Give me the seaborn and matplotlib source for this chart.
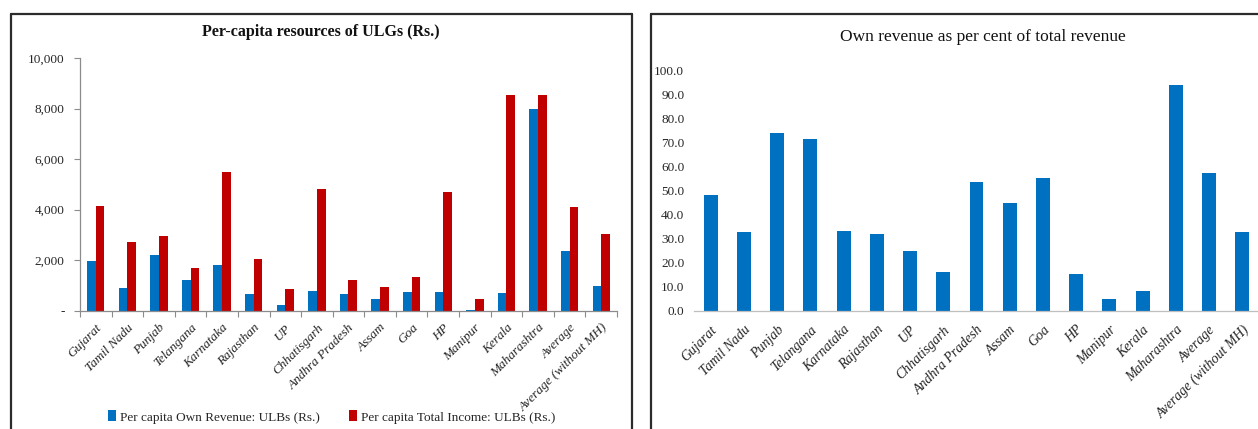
import numpy as np
import pandas as pd
import matplotlib
matplotlib.use("Agg")
import matplotlib.pyplot as plt
from matplotlib.lines import Line2D
from matplotlib.patches import Patch
import seaborn as sns

# ---- data -------------------------------------------------------------
states = ["Gujarat", "Tamil Nadu", "Punjab", "Telangana", "Karnataka",
          "Rajasthan", "UP", "Chhatisgarh", "Andhra Pradesh", "Assam", "Goa",
          "HP", "Manipur", "Kerala", "Maharashtra", "Average",
          "Average (without MH)"]
own_revenue = [1980, 900, 2180, 1190, 1810, 660, 210, 790, 650, 440, 730,
               730, 22, 690, 7970, 2340, 990]
total_income = [4120, 2710, 2960, 1670, 5470, 2050, 860, 4810, 1220, 950,
                1310, 4700, 440, 8520, 8520, 4090, 3040]
own_share_pct = [48.2, 32.9, 73.9, 71.4, 33.1, 32.1, 24.7, 16.1, 53.5, 45.0,
                 55.4, 15.3, 5.0, 8.0, 93.7, 57.3, 32.9]
series_names = ["Per capita Own Revenue: ULBs (Rs.)",
                "Per capita Total Income: ULBs (Rs.)"]
left_yticks = [0, 2000, 4000, 6000, 8000, 10000]
left_yticklabels = ["-", "2,000", "4,000", "6,000", "8,000", "10,000"]
right_yticks = [0, 10, 20, 30, 40, 50, 60, 70, 80, 90, 100]

BLUE = "#0070C0"
RED = "#C00000"
AXIS_GREY = "#8C8C8C"
TEXT = "#262626"

sns.set_theme(style="white")
plt.rcParams["font.family"] = ["Liberation Serif", "DejaVu Serif"]

W, H = 1258, 429
fig = plt.figure(figsize=(W / 100, H / 100), dpi=100)


def fx(px):
    return px / W


def fy(py):
    return 1 - py / H


# ---- panel frames ------------------------------------------------------
frame_kw = dict(color="#2b2b2b", linewidth=1.6, transform=fig.transFigure)
# left panel
fig.add_artist(Line2D([fx(11), fx(11)], [fy(14), -0.05], **frame_kw))
fig.add_artist(Line2D([fx(632), fx(632)], [fy(14), -0.05], **frame_kw))
fig.add_artist(Line2D([fx(11), fx(632)], [fy(14), fy(14)], **frame_kw))
# right panel
fig.add_artist(Line2D([fx(651), fx(651)], [fy(14), -0.05], **frame_kw))
fig.add_artist(Line2D([fx(651), 1.05], [fy(14), fy(14)], **frame_kw))

# ---- left chart: per-capita resources ----------------------------------
axL = fig.add_axes([fx(80), fy(310.5), fx(617) - fx(80), fy(58) - fy(310.5)])
long_df = pd.DataFrame({
    "state": states * 2,
    "value": own_revenue + total_income,
    "series": [series_names[0]] * len(states) + [series_names[1]] * len(states),
})
sns.barplot(data=long_df, x="state", y="value", hue="series",
            palette=[BLUE, RED], width=0.55, saturation=1, linewidth=0,
            legend=False, ax=axL)
axL.set_ylim(0, 10000)
axL.set_xlim(-0.5, len(states) - 0.5)
axL.set_yticks(left_yticks)
axL.set_yticklabels(left_yticklabels)
axL.set_xticks(range(len(states)))
axL.set_xticklabels(states, rotation=45, ha="right", rotation_mode="anchor",
                    fontstyle="italic", fontsize=9.5, color=TEXT)
axL.set_xticks(np.arange(-0.5, len(states)), minor=True)
axL.tick_params(axis="x", which="major", length=0, pad=8)
axL.tick_params(axis="x", which="minor", length=4, width=0.8,
                color=AXIS_GREY, direction="out", bottom=True)
axL.tick_params(axis="y", length=4, width=0.8, color=AXIS_GREY,
                direction="out", left=True, labelsize=9.5, labelcolor=TEXT,
                pad=7)
for side in ("top", "right"):
    axL.spines[side].set_visible(False)
for side in ("left", "bottom"):
    axL.spines[side].set_color(AXIS_GREY)
    axL.spines[side].set_linewidth(0.9)
axL.set_xlabel("")
axL.set_ylabel("")
axL.grid(False)
fig.text(fx(321), fy(32), "Per-capita resources of ULGs (Rs.)",
         ha="center", va="center", fontsize=11.5, fontweight="bold",
         color="#111111")

handles = [Patch(facecolor=BLUE, edgecolor="none"),
           Patch(facecolor=RED, edgecolor="none")]
fig.legend(handles, series_names, loc="center", ncol=2,
           bbox_to_anchor=(fx(332), fy(417)), frameon=False, fontsize=9.5,
           handlelength=0.6, handleheight=0.9, handletextpad=0.3,
           columnspacing=2.2, labelcolor=TEXT)

# ---- right chart: own revenue share ------------------------------------
axR = fig.add_axes([fx(694), fy(310.7), fx(1259) - fx(694),
                    fy(70.3) - fy(310.7)])
share_df = pd.DataFrame({"state": states, "share": own_share_pct})
sns.barplot(data=share_df, x="state", y="share", color=BLUE, width=0.42,
            saturation=1, linewidth=0, ax=axR)
axR.set_ylim(0, 100)
axR.set_xlim(-0.5, len(states) - 0.5)
axR.set_yticks(right_yticks)
axR.set_yticklabels([f"{v:.1f}" for v in right_yticks])
axR.set_xticks(range(len(states)))
axR.set_xticklabels(states, rotation=45, ha="right", rotation_mode="anchor",
                    fontstyle="italic", fontsize=10, color=TEXT)
axR.tick_params(axis="x", length=0, pad=9)
axR.tick_params(axis="y", length=0, labelsize=9.5, labelcolor=TEXT, pad=7)
for side in ("top", "right", "left"):
    axR.spines[side].set_visible(False)
axR.spines["bottom"].set_color("#BFBFBF")
axR.spines["bottom"].set_linewidth(0.9)
axR.set_xlabel("")
axR.set_ylabel("")
axR.grid(False)
fig.text(fx(983), fy(37), "Own revenue as per cent of total revenue",
         ha="center", va="center", fontsize=12.5, color="#111111")

fig.savefig("out.png", dpi=100)
